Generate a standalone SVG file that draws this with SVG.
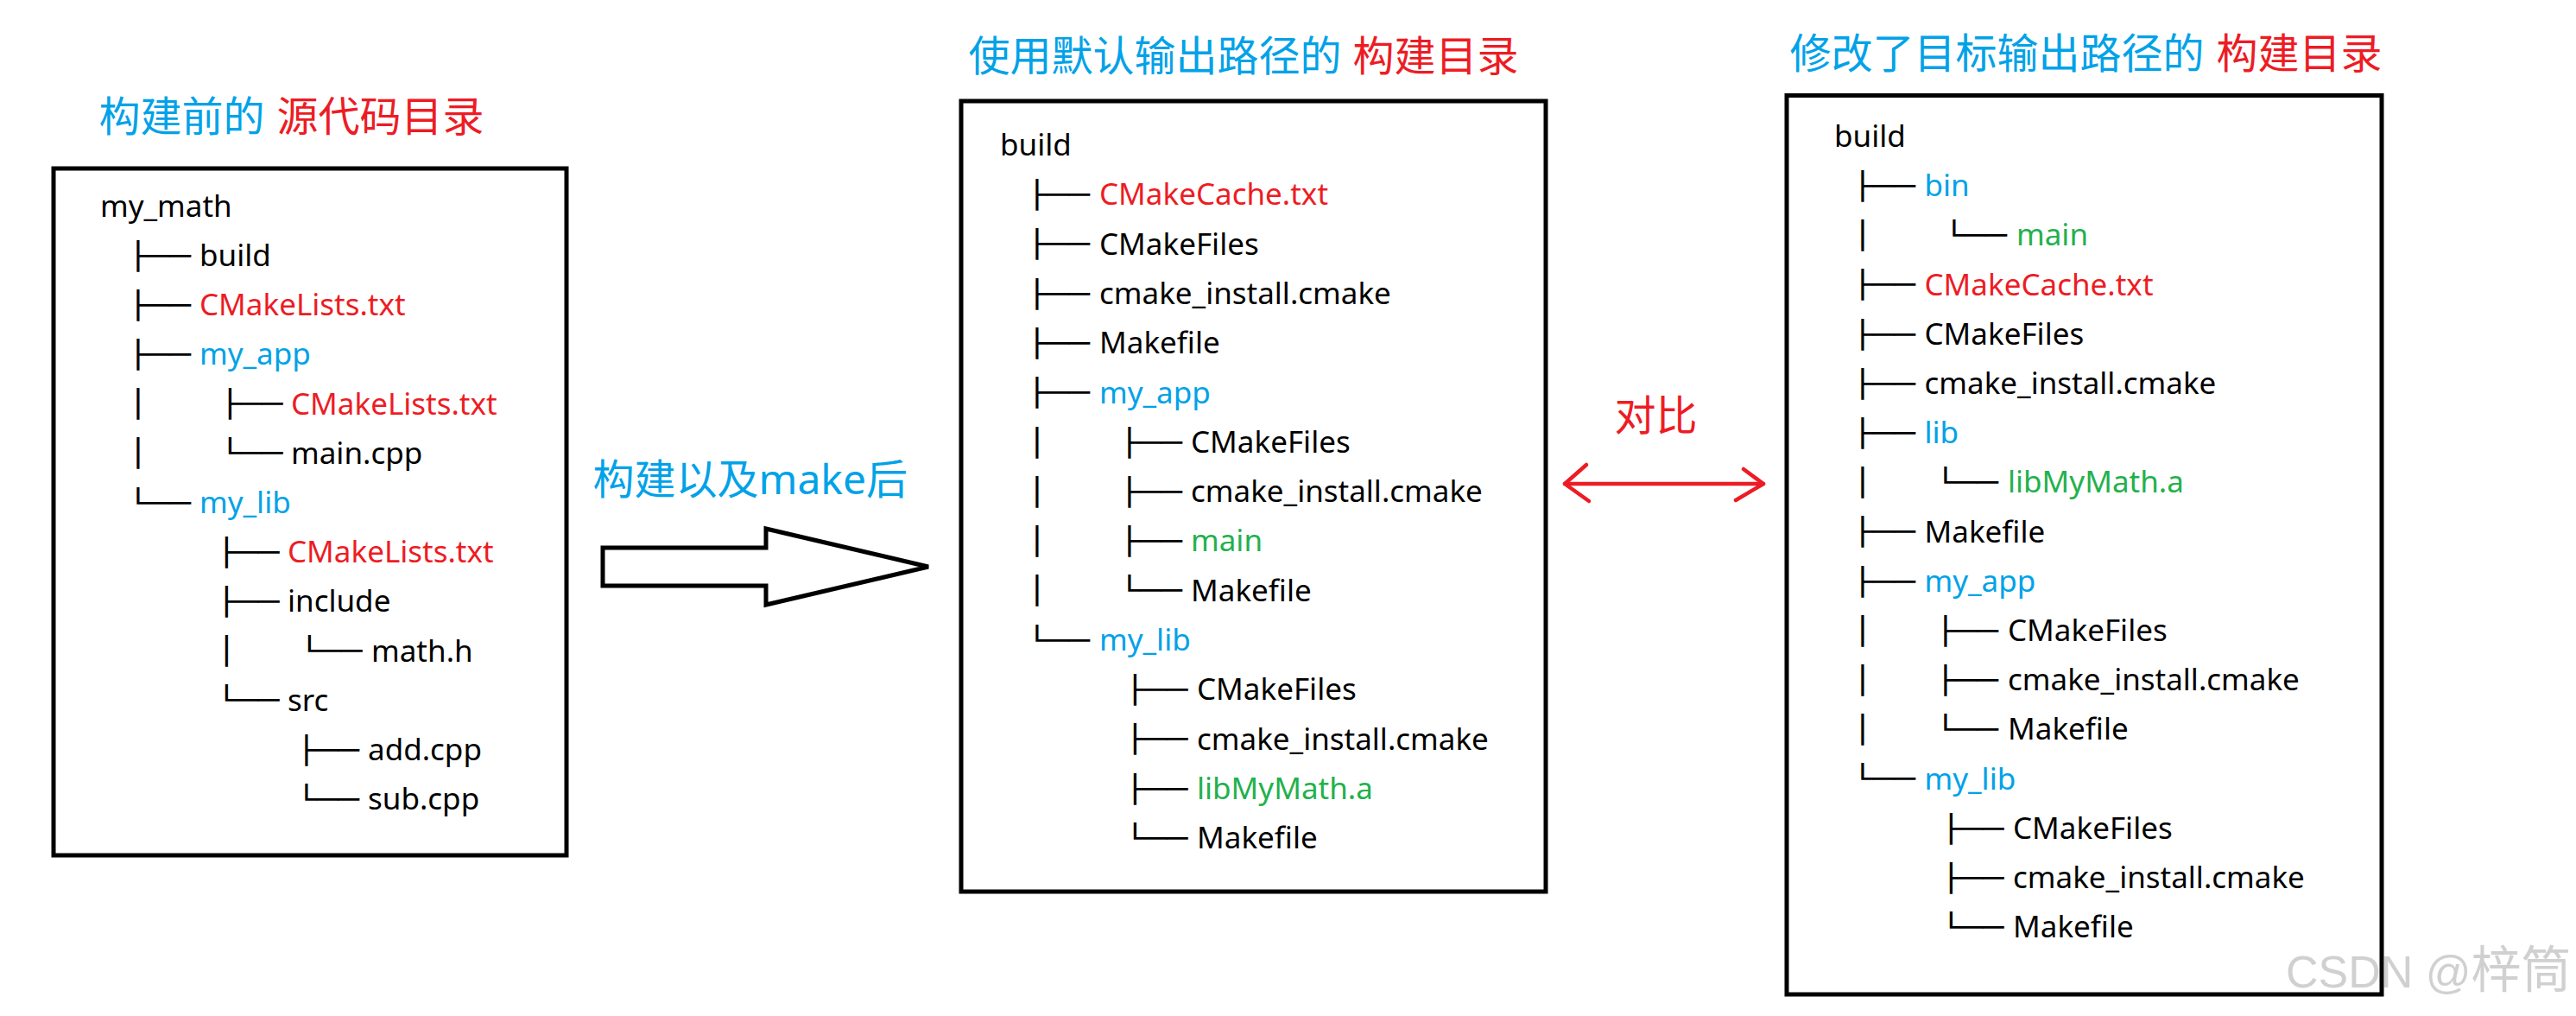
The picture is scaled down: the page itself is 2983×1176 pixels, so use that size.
<svg xmlns="http://www.w3.org/2000/svg" width="2983" height="1176" viewBox="0 0 2983 1176">
<style>
.box{fill:#fff;stroke:#000;stroke-width:5}
.t{font-family:"Noto Sans","Noto Sans CJK SC",sans-serif;font-size:35px;fill:#000}
.h{font-family:"Noto Sans","Noto Sans CJK SC",sans-serif;font-size:48px}
.tr{font-family:"DejaVu Sans Mono",monospace;font-size:31px;fill:#000}
.r{fill:#ED1C24}.b{fill:#00A2E8}.g{fill:#22B14C}
.wm{font-family:"Liberation Sans","Noto Sans CJK SC",sans-serif;fill:#d0d0d0}
</style>
<rect width="2983" height="1176" fill="#fff"/>

<g id="panel-source">
<text class="h b" x="114.5" y="151.5">构建前的<tspan class="r" x="320.5">源代码目录</tspan></text>
<rect class="box" x="62" y="195" width="594" height="795"/>
<text class="t" x="116" y="250.7">my_math</text>
<text class="tr" x="147.8" y="306.6" textLength="73.2" lengthAdjust="spacingAndGlyphs">├──</text><text class="t" x="231" y="307.9">build</text>
<text class="tr" x="147.8" y="363.8" textLength="73.2" lengthAdjust="spacingAndGlyphs">├──</text><text class="t r" x="231" y="365.1">CMakeLists.txt</text>
<text class="tr" x="147.8" y="421" textLength="73.2" lengthAdjust="spacingAndGlyphs">├──</text><text class="t b" x="231" y="422.3">my_app</text>
<text class="tr" x="147.8" y="478.2" textLength="24.4" lengthAdjust="spacingAndGlyphs">│</text><text class="tr" x="254.3" y="478.2" textLength="73.2" lengthAdjust="spacingAndGlyphs">├──</text><text class="t r" x="337" y="479.5">CMakeLists.txt</text>
<text class="tr" x="147.8" y="535.4" textLength="24.4" lengthAdjust="spacingAndGlyphs">│</text><text class="tr" x="254.3" y="535.4" textLength="73.2" lengthAdjust="spacingAndGlyphs">└──</text><text class="t" x="337" y="536.7">main.cpp</text>
<text class="tr" x="147.8" y="592.6" textLength="73.2" lengthAdjust="spacingAndGlyphs">└──</text><text class="t b" x="231" y="593.9">my_lib</text>
<text class="tr" x="250.3" y="649.8" textLength="73.2" lengthAdjust="spacingAndGlyphs">├──</text><text class="t r" x="333" y="651.1">CMakeLists.txt</text>
<text class="tr" x="250.3" y="707" textLength="73.2" lengthAdjust="spacingAndGlyphs">├──</text><text class="t" x="333" y="708.3">include</text>
<text class="tr" x="250.3" y="764.2" textLength="24.4" lengthAdjust="spacingAndGlyphs">│</text><text class="tr" x="346.3" y="764.2" textLength="73.2" lengthAdjust="spacingAndGlyphs">└──</text><text class="t" x="430" y="765.5">math.h</text>
<text class="tr" x="250.3" y="821.4" textLength="73.2" lengthAdjust="spacingAndGlyphs">└──</text><text class="t" x="333" y="822.7">src</text>
<text class="tr" x="342.8" y="878.6" textLength="73.2" lengthAdjust="spacingAndGlyphs">├──</text><text class="t" x="426" y="879.9">add.cpp</text>
<text class="tr" x="342.8" y="935.8" textLength="73.2" lengthAdjust="spacingAndGlyphs">└──</text><text class="t" x="426" y="937.1">sub.cpp</text>
</g>

<g id="panel-default-build">
<text class="h b" x="1121.5" y="81.5">使用默认输出路径的<tspan class="r" x="1566.5">构建目录</tspan></text>
<rect class="box" x="1113" y="117" width="677" height="915"/>
<text class="t" x="1158" y="180">build</text>
<text class="tr" x="1188.8" y="236" textLength="73.2" lengthAdjust="spacingAndGlyphs">├──</text><text class="t r" x="1273" y="237.3">CMakeCache.txt</text>
<text class="tr" x="1188.8" y="293.3" textLength="73.2" lengthAdjust="spacingAndGlyphs">├──</text><text class="t" x="1273" y="294.6">CMakeFiles</text>
<text class="tr" x="1188.8" y="350.6" textLength="73.2" lengthAdjust="spacingAndGlyphs">├──</text><text class="t" x="1273" y="351.9">cmake_install.cmake</text>
<text class="tr" x="1188.8" y="407.9" textLength="73.2" lengthAdjust="spacingAndGlyphs">├──</text><text class="t" x="1273" y="409.2">Makefile</text>
<text class="tr" x="1188.8" y="465.2" textLength="73.2" lengthAdjust="spacingAndGlyphs">├──</text><text class="t b" x="1273" y="466.5">my_app</text>
<text class="tr" x="1188.8" y="522.5" textLength="24.4" lengthAdjust="spacingAndGlyphs">│</text><text class="tr" x="1295.8" y="522.5" textLength="73.2" lengthAdjust="spacingAndGlyphs">├──</text><text class="t" x="1379" y="523.8">CMakeFiles</text>
<text class="tr" x="1188.8" y="579.8" textLength="24.4" lengthAdjust="spacingAndGlyphs">│</text><text class="tr" x="1295.8" y="579.8" textLength="73.2" lengthAdjust="spacingAndGlyphs">├──</text><text class="t" x="1379" y="581.1">cmake_install.cmake</text>
<text class="tr" x="1188.8" y="637.1" textLength="24.4" lengthAdjust="spacingAndGlyphs">│</text><text class="tr" x="1295.8" y="637.1" textLength="73.2" lengthAdjust="spacingAndGlyphs">├──</text><text class="t g" x="1379" y="638.4">main</text>
<text class="tr" x="1188.8" y="694.4" textLength="24.4" lengthAdjust="spacingAndGlyphs">│</text><text class="tr" x="1295.8" y="694.4" textLength="73.2" lengthAdjust="spacingAndGlyphs">└──</text><text class="t" x="1379" y="695.7">Makefile</text>
<text class="tr" x="1188.8" y="751.7" textLength="73.2" lengthAdjust="spacingAndGlyphs">└──</text><text class="t b" x="1273" y="753">my_lib</text>
<text class="tr" x="1302.3" y="809" textLength="73.2" lengthAdjust="spacingAndGlyphs">├──</text><text class="t" x="1386" y="810.3">CMakeFiles</text>
<text class="tr" x="1302.3" y="866.3" textLength="73.2" lengthAdjust="spacingAndGlyphs">├──</text><text class="t" x="1386" y="867.6">cmake_install.cmake</text>
<text class="tr" x="1302.3" y="923.6" textLength="73.2" lengthAdjust="spacingAndGlyphs">├──</text><text class="t g" x="1386" y="924.9">libMyMath.a</text>
<text class="tr" x="1302.3" y="980.9" textLength="73.2" lengthAdjust="spacingAndGlyphs">└──</text><text class="t" x="1386" y="982.2">Makefile</text>
</g>

<g id="panel-custom-build">
<text class="h b" x="2072.5" y="78.5">修改了目标输出路径的<tspan class="r" x="2566.5">构建目录</tspan></text>
<rect class="box" x="2069" y="110.5" width="689" height="1040.5"/>
<text class="t" x="2124" y="170">build</text>
<text class="tr" x="2144.8" y="225.9" textLength="73.2" lengthAdjust="spacingAndGlyphs">├──</text><text class="t b" x="2228.5" y="227.2">bin</text>
<text class="tr" x="2144.8" y="283.1" textLength="24.4" lengthAdjust="spacingAndGlyphs">│</text><text class="tr" x="2250.8" y="283.1" textLength="73.2" lengthAdjust="spacingAndGlyphs">└──</text><text class="t g" x="2335" y="284.4">main</text>
<text class="tr" x="2144.8" y="340.3" textLength="73.2" lengthAdjust="spacingAndGlyphs">├──</text><text class="t r" x="2228.5" y="341.6">CMakeCache.txt</text>
<text class="tr" x="2144.8" y="397.5" textLength="73.2" lengthAdjust="spacingAndGlyphs">├──</text><text class="t" x="2228.5" y="398.8">CMakeFiles</text>
<text class="tr" x="2144.8" y="454.7" textLength="73.2" lengthAdjust="spacingAndGlyphs">├──</text><text class="t" x="2228.5" y="456">cmake_install.cmake</text>
<text class="tr" x="2144.8" y="511.9" textLength="73.2" lengthAdjust="spacingAndGlyphs">├──</text><text class="t b" x="2228.5" y="513.2">lib</text>
<text class="tr" x="2144.8" y="569.1" textLength="24.4" lengthAdjust="spacingAndGlyphs">│</text><text class="tr" x="2240.8" y="569.1" textLength="73.2" lengthAdjust="spacingAndGlyphs">└──</text><text class="t g" x="2325" y="570.4">libMyMath.a</text>
<text class="tr" x="2144.8" y="626.3" textLength="73.2" lengthAdjust="spacingAndGlyphs">├──</text><text class="t" x="2228.5" y="627.6">Makefile</text>
<text class="tr" x="2144.8" y="683.5" textLength="73.2" lengthAdjust="spacingAndGlyphs">├──</text><text class="t b" x="2228.5" y="684.8">my_app</text>
<text class="tr" x="2144.8" y="740.7" textLength="24.4" lengthAdjust="spacingAndGlyphs">│</text><text class="tr" x="2240.8" y="740.7" textLength="73.2" lengthAdjust="spacingAndGlyphs">├──</text><text class="t" x="2325" y="742">CMakeFiles</text>
<text class="tr" x="2144.8" y="797.9" textLength="24.4" lengthAdjust="spacingAndGlyphs">│</text><text class="tr" x="2240.8" y="797.9" textLength="73.2" lengthAdjust="spacingAndGlyphs">├──</text><text class="t" x="2325" y="799.2">cmake_install.cmake</text>
<text class="tr" x="2144.8" y="855.1" textLength="24.4" lengthAdjust="spacingAndGlyphs">│</text><text class="tr" x="2240.8" y="855.1" textLength="73.2" lengthAdjust="spacingAndGlyphs">└──</text><text class="t" x="2325" y="856.4">Makefile</text>
<text class="tr" x="2144.8" y="912.3" textLength="73.2" lengthAdjust="spacingAndGlyphs">└──</text><text class="t b" x="2228.5" y="913.6">my_lib</text>
<text class="tr" x="2247.3" y="969.5" textLength="73.2" lengthAdjust="spacingAndGlyphs">├──</text><text class="t" x="2331" y="970.8">CMakeFiles</text>
<text class="tr" x="2247.3" y="1026.7" textLength="73.2" lengthAdjust="spacingAndGlyphs">├──</text><text class="t" x="2331" y="1028">cmake_install.cmake</text>
<text class="tr" x="2247.3" y="1083.9" textLength="73.2" lengthAdjust="spacingAndGlyphs">└──</text><text class="t" x="2331" y="1085.2">Makefile</text>
</g>

<g id="connectors">
<g id="build-arrow">
<polygon points="698,634 887,634 887,612 1075,656 887,700 887,678 698,678" fill="#fff" stroke="#000" stroke-width="5" stroke-linejoin="miter"/>
<text class="h b" x="686.5" y="571.5">构建以及make后</text>
</g>
<g id="compare-arrow" fill="none" stroke="#ED1C24" stroke-width="4.5" stroke-linecap="round" stroke-linejoin="round">
<line x1="1812" y1="560" x2="2042" y2="560"/>
<polyline points="1837,538 1812,560 1840,580"/>
<polyline points="2019,543 2042,560 2010,579"/>
<text class="h r" x="1869.5" y="498" stroke="none">对比</text>
</g>
</g>

<text class="wm" x="2647" y="1143" font-size="52">CSDN @<tspan font-size="58">梓筒</tspan></text>
</svg>
